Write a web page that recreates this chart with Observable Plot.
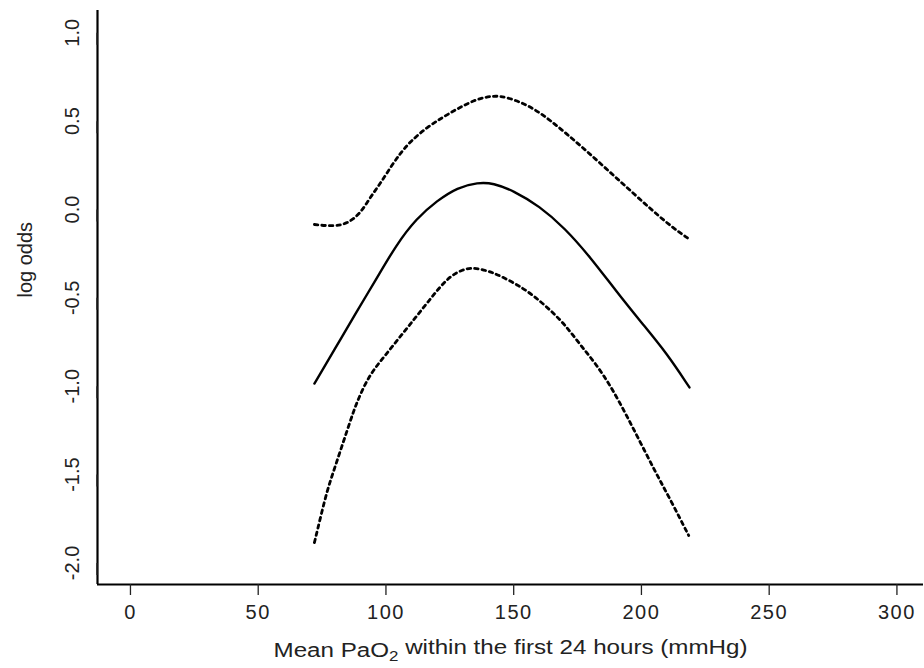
<!DOCTYPE html>
<html>
<head>
<meta charset="utf-8">
<script src="https://cdn.jsdelivr.net/npm/d3@7"></script>
<script src="https://cdn.jsdelivr.net/npm/@observablehq/plot@0.6"></script>
<style>
  html, body { margin: 0; padding: 0; background: #fff; }
  #chart svg { display: block; }
</style>
</head>
<body>
<div id="chart"></div>
<script>
// ---- Data ----
const xTitle = "Mean PaO2 within the first 24 hours (mmHg)";
const yTitle = "log odds";
const xTicks = [0, 50, 100, 150, 200, 250, 300];
const yTicks = [-2.0, -1.5, -1.0, -0.5, 0.0, 0.5, 1.0];
const xDomain = [-12.9, 310.4];
const yDomain = [-2.122, 1.126];

// Estimate (solid line)
const estX = [72.0, 80, 88, 96, 104, 112, 120, 128, 136, 142, 150, 160, 170, 180, 190, 200, 210, 218.8];
const estY = [-0.985, -0.79, -0.59, -0.40, -0.20, -0.05, 0.05, 0.125, 0.153, 0.150, 0.105, 0.02, -0.105, -0.27, -0.46, -0.64, -0.815, -1.007];

// Upper confidence band (dotted)
const upperX = [72.0, 79.5, 84.8, 90.0, 93.9, 97.8, 101.8, 105.7, 109.6, 116.1, 122.6, 129.2, 135.7, 142.2, 147.4, 157.9, 170.9, 184.1, 197.0, 210.1, 218.5];
const upperY = [-0.085, -0.096, -0.081, -0.023, 0.070, 0.147, 0.239, 0.320, 0.385, 0.466, 0.525, 0.580, 0.626, 0.645, 0.636, 0.579, 0.428, 0.259, 0.089, -0.081, -0.166];

// Lower confidence band (dotted)
const lowerX = [72.0, 74.4, 77.0, 79.6, 82.2, 84.8, 87.4, 90.0, 93.9, 99.1, 104.4, 109.6, 114.8, 120.0, 125.2, 131.8, 137.0, 142, 146, 152, 158, 164, 170, 176, 182, 188, 194, 200, 206, 212, 218.5];
const lowerY = [-1.885, -1.741, -1.590, -1.477, -1.364, -1.251, -1.138, -1.043, -0.930, -0.836, -0.741, -0.647, -0.553, -0.458, -0.374, -0.327, -0.336, -0.358, -0.385, -0.43, -0.49, -0.565, -0.65, -0.765, -0.87, -1.00, -1.16, -1.33, -1.50, -1.66, -1.845];

// ---- Build tables ----
const toRows = (xs, ys) => xs.map((x, i) => ({x, y: ys[i]}));
const est = toRows(estX, estY);
const upper = toRows(upperX, upperY);
const lower = toRows(lowerX, lowerY);

const fmt = d => d.toFixed(1);
const FONT = "'Liberation Sans', Arial, Helvetica, sans-serif";

const chart = Plot.plot({
  width: 924,
  height: 668,
  marginLeft: 97,
  marginRight: 1,
  marginTop: 10,
  marginBottom: 84,
  style: {fontFamily: FONT, fontSize: "20px", color: "#222", background: "#fff"},
  x: {domain: xDomain},
  y: {domain: yDomain},
  marks: [
    // L-shaped frame (R bty = "l")
    Plot.ruleX([xDomain[0]], {y1: yDomain[0], y2: yDomain[1], stroke: "#000", strokeWidth: 2.2}),
    Plot.ruleY([yDomain[0]], {x1: xDomain[0], x2: xDomain[1], stroke: "#000", strokeWidth: 2.2}),
    Plot.axisX({ticks: xTicks, tickSize: 11, tickPadding: 9, tickFormat: d => String(d), label: null, fontSize: 20, strokeWidth: 1.3, className: "xticks"}),
    Plot.axisY({ticks: yTicks, tickSize: 12, tickPadding: 13, tickFormat: fmt, rotate: -90, textAnchor: "middle", label: null, fontSize: 20, strokeWidth: 1.3}),
    Plot.line(upper, {x: "x", y: "y", curve: "basis", stroke: "#000", strokeWidth: 2.8, strokeDasharray: "3.5,4"}),
    Plot.line(lower, {x: "x", y: "y", curve: "basis", stroke: "#000", strokeWidth: 2.8, strokeDasharray: "3.5,4"}),
    Plot.line(est, {x: "x", y: "y", curve: "basis", stroke: "#000", strokeWidth: 2.4}),
    Plot.text([xTitle], {text: d => d, frameAnchor: "bottom", lineAnchor: "bottom", dy: 72, fontSize: 20, fill: "#222", className: "xtitle"}),
    Plot.text([yTitle], {text: d => d, frameAnchor: "left", rotate: -90, dx: -72, fontSize: 20, fill: "#222"})
  ]
});
document.getElementById("chart").appendChild(chart);

// Slightly wider tick digits, as in the reference
d3.select(chart).selectAll("g.xticks text").attr("letter-spacing", "1.5px");

// Render the subscript in "PaO2" as a real subscript
d3.select(chart).selectAll("g.xtitle text").each(function () {
  const t = d3.select(this);
  t.text(null);
  t.append("tspan").text("Mean PaO");
  t.append("tspan").attr("font-size", "14px").attr("dy", "0.35em").text("2");
  t.append("tspan").attr("dy", "-0.35em").text(" within the first 24 hours (mmHg)");
  t.attr("textLength", 474).attr("lengthAdjust", "spacingAndGlyphs");
});
</script>
</body>
</html>
